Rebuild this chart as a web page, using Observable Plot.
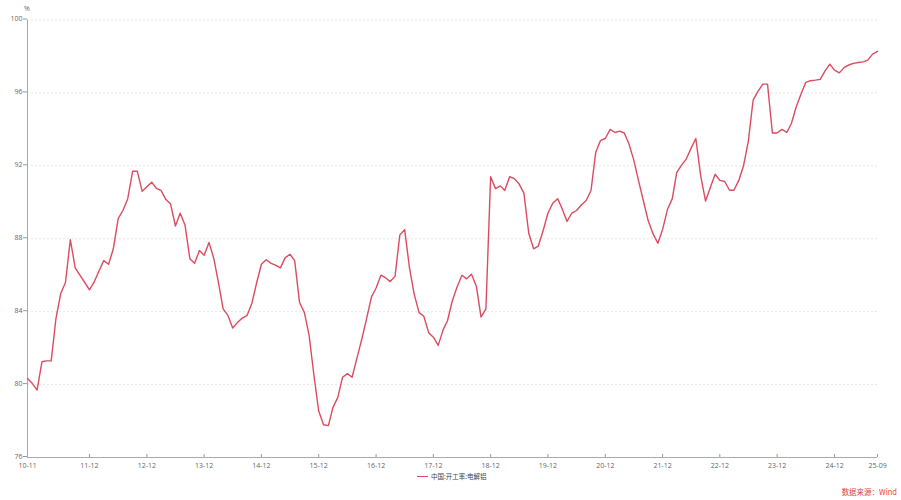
<!DOCTYPE html>
<html><head><meta charset="utf-8">
<script src="https://cdn.jsdelivr.net/npm/d3@7"></script>
<script src="https://cdn.jsdelivr.net/npm/@observablehq/plot@0.6"></script>
<style>
body{margin:0;background:#fff;}
#wrap{position:relative;width:901px;height:500px;background:#fff;font-family:"Open Sans","Noto Sans CJK SC",sans-serif;}
#unit{position:absolute;left:24px;top:4px;font-size:7px;color:#666;}
#legend{position:absolute;left:417px;top:471px;height:10px;display:flex;align-items:center;font-family:"Noto Sans CJK SC",sans-serif;font-size:6.5px;color:#444;}
#legend .sw{display:inline-block;width:11px;height:0;border-top:1.5px solid #dc4b5f;margin-right:3px;}
#source{position:absolute;right:4px;top:486px;font-family:"Noto Sans CJK SC",sans-serif;font-size:7.5px;color:#e0413b;}
</style></head><body><div id="wrap"></div>
<script>
const startLabel = "10-11";
const values = [
 80.33, 80.07, 79.7, 81.25, 81.3, 81.3, 83.6, 85.0, 85.6, 87.95,
 86.4, 86.0, 85.6, 85.2, 85.65, 86.26, 86.8, 86.6, 87.45, 89.1,
 89.55, 90.2, 91.7, 91.7, 90.6, 90.85, 91.1, 90.75, 90.65, 90.15,
 89.9, 88.7, 89.4, 88.75, 86.9, 86.65, 87.35, 87.1, 87.8, 86.9,
 85.65, 84.15, 83.8, 83.1, 83.4, 83.65, 83.8, 84.45, 85.6, 86.6,
 86.85, 86.65, 86.55, 86.4, 86.95, 87.15, 86.8, 84.5, 83.95, 82.7,
 80.5, 78.55, 77.8, 77.75, 78.75, 79.3, 80.4, 80.6, 80.4, 81.45,
 82.5, 83.6, 84.8, 85.3, 86.0, 85.85, 85.65, 85.95, 88.2, 88.5,
 86.45, 84.95, 83.95, 83.75, 82.85, 82.6, 82.15, 83.0, 83.5, 84.6,
 85.35, 86.0, 85.8, 86.05, 85.4, 83.7, 84.15, 91.4, 90.75, 90.9,
 90.65, 91.4, 91.3, 91.0, 90.5, 88.3, 87.45, 87.6, 88.45, 89.4,
 89.95, 90.2, 89.65, 88.95, 89.4, 89.55, 89.85, 90.1, 90.65, 92.75,
 93.4, 93.5, 94.0, 93.83, 93.9, 93.8, 93.2, 92.3, 91.17, 90.07,
 88.97, 88.28, 87.75, 88.5, 89.6, 90.2, 91.63, 92.04, 92.37, 92.97,
 93.5, 91.45, 90.07, 90.8, 91.54, 91.2, 91.14, 90.66, 90.66, 91.2,
 92.0, 93.37, 95.6, 96.08, 96.48, 96.48, 93.8, 93.8, 94.0, 93.83,
 94.32, 95.24, 95.93, 96.58, 96.67, 96.7, 96.74, 97.2, 97.58, 97.25,
 97.1, 97.4, 97.53, 97.62, 97.67, 97.7, 97.8, 98.13, 98.28
];
const tickLabels = ["10-11","11-12","12-12","13-12","14-12","15-12","16-12","17-12","18-12","19-12","20-12","21-12","22-12","23-12","24-12","25-09"];
const yTicks = [76, 80, 84, 88, 92, 96, 100];
const seriesName = "中国:开工率:电解铝";
const unitLabel = "%";
const sourceText = "数据来源：Wind";

const parse = s => new Date(Date.UTC(2000 + +s.slice(0, 2), +s.slice(3, 5) - 1, 1));
const start = parse(startLabel);
const data = values.map((v, i) => ({date: d3.utcMonth.offset(start, i), value: v}));
const tickDates = tickLabels.map(parse);
const fmt = d3.utcFormat("%y-%m");

const chart = Plot.plot({
  width: 901, height: 470,
  marginLeft: 27, marginRight: 24, marginTop: 19.5, marginBottom: 13,
  style: {fontFamily: "'Open Sans', sans-serif", fontSize: "7px", background: "#fff", overflow: "visible"},
  x: {type: "utc", domain: [start, tickDates[tickDates.length - 1]]},
  y: {domain: [76, 100]},
  marks: [
    Plot.gridY(yTicks.filter(d => d > 76), {stroke: "#e6e6e6", strokeOpacity: 1, strokeDasharray: "2,2"}),
    Plot.axisY(yTicks, {tickSize: 4, tickPadding: 1, dy: -1, label: null, stroke: "#999", fill: "#666"}),
    Plot.axisX(tickDates, {tickSize: -3, tickPadding: 9, tickFormat: fmt, label: null, stroke: "#999", fill: "#666"}),
    Plot.ruleY([76], {stroke: "#aaa"}),
    Plot.ruleX([start], {stroke: "#aaa"}),
    Plot.line(data, {x: "date", y: "value", stroke: "#dc4b5f", strokeWidth: 1.4})
  ]
});

const wrap = document.getElementById("wrap");
wrap.appendChild(chart);
const u = document.createElement("div"); u.id = "unit"; u.textContent = unitLabel; wrap.appendChild(u);
const lg = document.createElement("div"); lg.id = "legend";
lg.innerHTML = '<span class="sw"></span>';
const lt = document.createElement("span"); lt.textContent = seriesName; lg.appendChild(lt);
wrap.appendChild(lg);
const src = document.createElement("div"); src.id = "source"; src.textContent = sourceText; wrap.appendChild(src);
</script></body></html>
